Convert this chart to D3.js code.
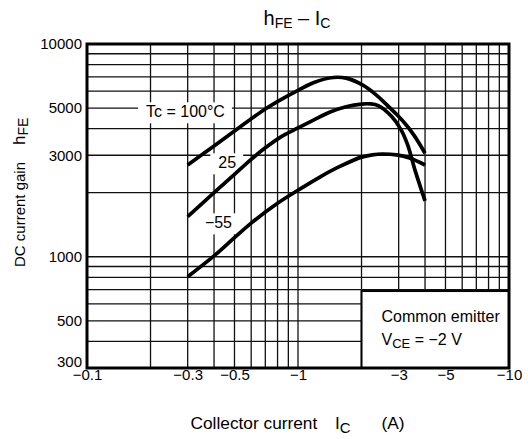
<!DOCTYPE html>
<html><head><meta charset="utf-8">
<script src="https://cdn.jsdelivr.net/npm/d3@7"></script>
<style>
body{margin:0;background:#fff}
svg{display:block}
text{font-family:"Liberation Sans",Arial,Helvetica,sans-serif;fill:#000}
</style>
</head><body>
<svg id="chart" width="528" height="439"></svg>
<script>
// ---- data ----
const xTickValues = [0.1, 0.3, 0.5, 1, 3, 5, 10];
const xTickLabels = ["−0.1", "−0.3", "−0.5", "−1", "−3", "−5", "−10"];
const yTickValues = [300, 500, 1000, 3000, 5000, 10000];
const yTickLabels = ["300", "500", "1000", "3000", "5000", "10000"];
const seriesLabels = ["Tc = 100°C", "25", "−55"];

const ic100  = [0.3, 0.4, 0.5, 0.6, 0.7, 0.83, 1, 1.19, 1.47, 1.69, 2.02, 2.33, 2.6, 2.9, 3.2, 3.55, 4];
const hfe100 = [2700, 3320, 3900, 4450, 4950, 5480, 6060, 6600, 6960, 6910, 6420, 5800, 5250, 4720, 4250, 3720, 3064];

const ic25  = [0.3, 0.4, 0.5, 0.6, 0.7, 0.83, 1, 1.19, 1.42, 1.69, 2, 2.2, 2.4, 2.78, 3.08, 3.3, 3.6, 4];
const hfe25 = [1545, 2000, 2440, 2870, 3250, 3660, 4030, 4400, 4790, 5070, 5220, 5230, 5130, 4560, 3950, 3380, 2520, 1830];

const icM55  = [0.3, 0.4, 0.5, 0.6, 0.8, 1, 1.27, 1.57, 2, 2.25, 2.5, 2.93, 3.38, 4];
const hfeM55 = [806, 1010, 1230, 1440, 1785, 2055, 2370, 2650, 2940, 3010, 3040, 3010, 2910, 2700];

// ---- layout ----
const svg = d3.select("#chart");
const x = d3.scaleLog().domain([0.1, 10]).range([87, 509]);
const y = d3.scaleLog().domain([300, 10000]).range([368, 44]);
const [x0, x1] = x.range();
const [y0, y1] = y.range();
const FONT = '"Liberation Sans",Arial,Helvetica,sans-serif';

// grid
const grid = svg.append("g").attr("stroke", "#111").attr("stroke-width", 1.3);
grid.selectAll("line.v").data(x.ticks()).join("line").attr("class", "v")
  .attr("x1", d => x(d)).attr("x2", d => x(d)).attr("y1", y0).attr("y2", y1);
grid.selectAll("line.h").data(y.ticks()).join("line").attr("class", "h")
  .attr("y1", d => y(d)).attr("y2", d => y(d)).attr("x1", x0).attr("x2", x1);

// layers
const bgLayer = svg.append("g");
const curveLayer = svg.append("g");
const txtLayer = svg.append("g");

// curve labels (white backgrounds break the grid, under the curves)
const labelPos = [[0.1904, 4524], [0.419, 2605], [0.362, 1360]];
seriesLabels.forEach((t, i) => {
  const tx = txtLayer.append("text").attr("x", x(labelPos[i][0])).attr("y", y(labelPos[i][1]))
    .attr("font-size", 16).text(t);
  const b = tx.node().getBBox();
  bgLayer.append("rect").attr("x", b.x - 8).attr("y", b.y - 1).attr("width", b.width + 15)
    .attr("height", b.height + 4).attr("fill", "#fff");
});

// curves
const line = d3.line().x(d => x(d[0])).y(d => y(d[1])).curve(d3.curveCatmullRom.alpha(0.5));
const series = [
  d3.zip(ic100, hfe100),
  d3.zip(ic25, hfe25),
  d3.zip(icM55, hfeM55)
];
curveLayer.selectAll("path").data(series).join("path")
  .attr("d", line).attr("fill", "none").attr("stroke", "#000")
  .attr("stroke-width", 3.7).attr("stroke-linecap", "butt").attr("stroke-linejoin", "round");

// conditions box
const boxX = x(2), boxY = y(690);
svg.append("rect").attr("x", boxX).attr("y", boxY).attr("width", x1 - boxX).attr("height", y0 - boxY)
  .attr("fill", "#fff").attr("stroke", "#000").attr("stroke-width", 2);
svg.append("text").attr("x", boxX + 20).attr("y", boxY + 31).attr("font-size", 16).text("Common emitter");
const vt = svg.append("text").attr("x", boxX + 20).attr("y", boxY + 54).attr("font-size", 16);
vt.append("tspan").text("V");
vt.append("tspan").attr("font-size", 13).attr("dy", 3).text("CE");
vt.append("tspan").attr("dy", -3).text(" = −2 V");

// frame
svg.append("rect").attr("x", x0).attr("y", y1).attr("width", x1 - x0).attr("height", y0 - y1)
  .attr("fill", "none").attr("stroke", "#000").attr("stroke-width", 3);

// axis tick labels
const xAxis = d3.axisBottom(x).tickValues(xTickValues)
  .tickFormat((d, i) => xTickLabels[i]).tickSize(0).tickPadding(1.5);
const gx = svg.append("g").attr("transform", `translate(0,${y0})`).call(xAxis);
gx.select(".domain").remove();
gx.selectAll("text").attr("font-size", 15).attr("font-family", FONT).attr("fill", "#000");

const yAxis = d3.axisLeft(y).tickValues(yTickValues)
  .tickFormat((d, i) => yTickLabels[i]).tickSize(0).tickPadding(5);
const gy = svg.append("g").attr("transform", `translate(${x0},0)`).call(yAxis);
gy.select(".domain").remove();
gy.selectAll("text").attr("font-size", 15).attr("font-family", FONT).attr("fill", "#000");
gy.selectAll(".tick").filter(d => d === 300).select("text").attr("y", -6);

// title
const title = svg.append("text").attr("x", 297).attr("y", 25).attr("text-anchor", "middle").attr("font-size", 20);
title.append("tspan").text("h");
title.append("tspan").attr("font-size", 14).attr("dy", 3).text("FE");
title.append("tspan").attr("dy", -3).text(" – I");
title.append("tspan").attr("font-size", 14).attr("dy", 3).text("C");

// x axis title
svg.append("text").attr("x", 190.5).attr("y", 428.5).attr("font-size", 17.3).text("Collector current");
const ixt = svg.append("text").attr("x", 335).attr("y", 428.5).attr("font-size", 17.3);
ixt.append("tspan").text("I");
ixt.append("tspan").attr("font-size", 15).attr("dy", 4).text("C");
svg.append("text").attr("x", 381.5).attr("y", 428.5).attr("font-size", 17.3).text("(A)");

// y axis title
svg.append("text").attr("transform", "translate(25,267) rotate(-90)").attr("font-size", 15).text("DC current gain");
const yt2 = svg.append("text").attr("transform", "translate(25,145) rotate(-90)").attr("font-size", 17);
yt2.append("tspan").text("h");
yt2.append("tspan").attr("font-size", 14).attr("dy", 3).text("FE");
</script>
</body></html>
